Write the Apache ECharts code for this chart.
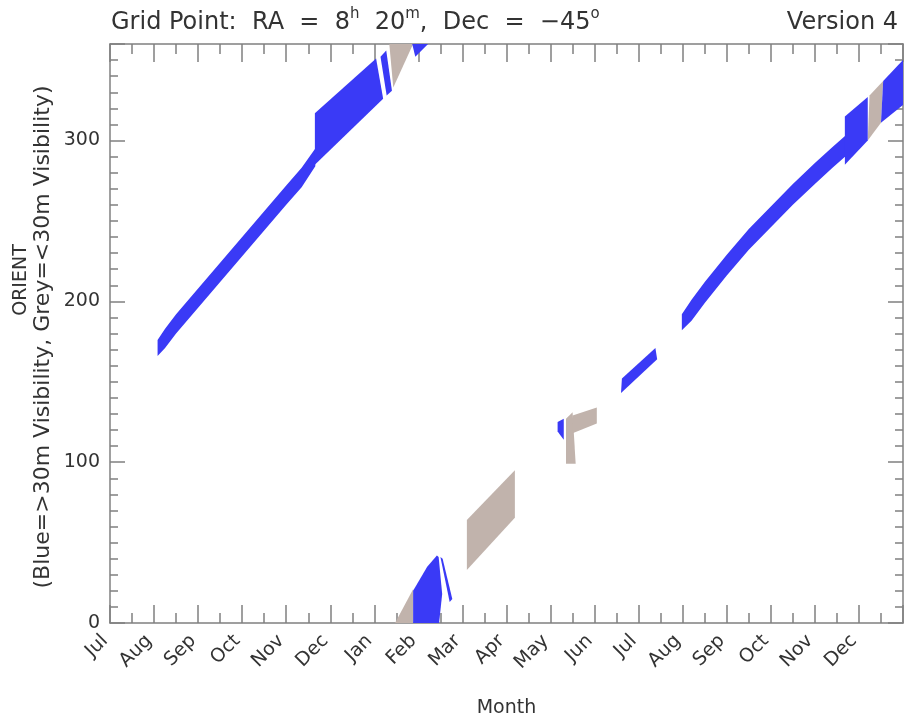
<!DOCTYPE html>
<html>
<head>
<meta charset="utf-8">
<script src="https://cdn.jsdelivr.net/npm/echarts@6/dist/echarts.min.js"></script>
<style>html,body{margin:0;padding:0;background:#fff;}#chart{width:907px;height:723px;}</style>
</head>
<body>
<div id="chart"></div>
<script>
// ---- tick labels ----
const monthLabels = ['Jul','Aug','Sep','Oct','Nov','Dec','Jan','Feb','Mar','Apr','May','Jun','Jul','Aug','Sep','Oct','Nov','Dec'];
const yTickValues = [0, 100, 200, 300];

// ---- data: x = months since 1 Jul, y = ORIENT (deg) ----
// long visibility band, first year (edges)
const band1Months = [1.08, 1.25, 1.5, 2.0, 2.5, 3.0, 3.5, 4.0, 4.35, 4.66];
const band1Low    = [166, 171, 180, 196, 212, 228, 244, 260, 271, 284];
const band1High   = [176, 183, 192, 208, 224, 240, 256, 272, 283, 295];
// long visibility band, second year (edges)
const band2Months = [12.98, 13.2, 13.5, 14.0, 14.5, 15.0, 15.5, 16.0, 16.4, 16.69];
const band2Low    = [182, 188, 199, 216, 232, 246, 260, 273, 283, 290];
const band2High   = [192, 201, 212, 229, 245, 259, 273, 286, 296, 303];

// other blue (>30m) patches, polygon vertices [month, orient]
const blueBlockDec1 = [[4.65,285],[6.2,326],[6.04,351],[4.65,317]];
const blueSliverJan = [[6.14,352],[6.27,356],[6.40,331],[6.28,328]];
const blueTopJan    = [[6.86,360],[7.22,360],[6.93,352]];
const blueBottomFeb = [[6.88,0],[6.88,20],[7.2,35],[7.42,42],[7.46,41],[7.54,18],[7.47,0]];
const blueSliverFeb = [[7.50,41],[7.55,40],[7.77,15],[7.71,13]];
const blueMay       = [[10.16,119],[10.16,125],[10.3,127],[10.3,114]];
const blueJun       = [[11.6,143],[11.62,152],[12.38,171],[12.42,164]];
const blueBlockDec2 = [[16.68,285],[17.2,300],[17.2,327],[16.68,315]];
const blueEndDec2   = [[17.5,311],[18,322],[18,350],[17.55,337]];

// grey (<30m) patches
const greyTopJan    = [[6.34,360],[6.88,360],[6.43,333]];
const greyBottomJan = [[6.47,0],[6.88,0],[6.88,21]];
const greyMar       = [[8.10,33],[9.19,65.5],[9.19,95],[8.10,64]];
const greyMayBar    = [[10.35,99],[10.35,127],[10.5,131],[10.57,99]];
const greyMayBand   = [[10.5,118],[10.5,129],[11.05,134],[11.05,124]];
const greyDec2      = [[17.2,300],[17.5,311],[17.55,337],[17.24,328]];

function bandPolygon(ms, lo, hi) {
  const lower = ms.map((m, i) => [m, lo[i]]);
  const upper = ms.map((m, i) => [m, hi[i]]).reverse();
  return lower.concat(upper);
}

const blueShapes = [
  bandPolygon(band1Months, band1Low, band1High),
  blueBlockDec1, blueSliverJan, blueTopJan, blueBottomFeb, blueSliverFeb,
  blueMay, blueJun,
  bandPolygon(band2Months, band2Low, band2High),
  blueBlockDec2, blueEndDec2
];
const greyShapes = [greyTopJan, greyBottomJan, greyMar, greyMayBar, greyMayBand, greyDec2];

const BLUE = '#3a3af6';
const GREY = '#c1b3ac';
const AXIS = '#808080';
const TEXT = '#333333';
const FONT = 'DejaVu Sans';

function polySeries(name, shapes, color) {
  return {
    type: 'custom',
    name: name,
    coordinateSystem: 'cartesian2d',
    xAxisIndex: 0, yAxisIndex: 0,
    clip: true,
    silent: true,
    encode: { x: 0, y: 1 },
    data: shapes.map((p, i) => [p[0][0], p[0][1], i]),
    renderItem: function (params, api) {
      const poly = shapes[api.value(2)];
      const pts = poly.map(pt => api.coord(pt));
      return { type: 'polygon', shape: { points: pts }, style: { fill: color, stroke: null } };
    }
  };
}

const lineStyle = { color: AXIS, width: 1.5 };

function xAxisDef(pos, showLabels) {
  return {
    type: 'value', position: pos, min: 0, max: 18, interval: 1,
    axisLine: { show: true, onZero: false, lineStyle: lineStyle },
    axisTick: { show: true, inside: true, length: 18, lineStyle: lineStyle },
    minorTick: { show: true, splitNumber: 2, length: 10, lineStyle: lineStyle },
    splitLine: { show: false }, minorSplitLine: { show: false },
    axisLabel: showLabels ? {
      show: true, rotate: 45, margin: 10, padding: [0, 7, 0, 0], fontSize: 19, color: TEXT, fontFamily: FONT,
      formatter: v => monthLabels[Math.round(v)] || ''
    } : { show: false },
    name: showLabels ? 'Month' : '',
    nameLocation: 'middle', nameGap: 76,
    nameTextStyle: { fontSize: 19, color: TEXT, fontFamily: FONT }
  };
}
function yAxisDef(pos, interval, len, showLine, showLabels) {
  return {
    type: 'value', position: pos, min: 0, max: 360, interval: interval,
    axisLine: { show: showLine, onZero: false, lineStyle: lineStyle },
    axisTick: { show: true, inside: true, length: len, lineStyle: lineStyle },
    splitLine: { show: false },
    axisLabel: showLabels ? {
      show: true, margin: 10, fontSize: 19, color: TEXT, fontFamily: FONT,
      formatter: v => (yTickValues.indexOf(v) >= 0 ? String(v) : '')
    } : { show: false }
  };
}

const chart = echarts.init(document.getElementById('chart'), null, { renderer: 'canvas' });
chart.setOption({
  backgroundColor: '#ffffff',
  animation: false,
  title: [
    {
      left: 106, top: 2,
      text: '{n|Grid Point:  RA  =  8}{s|h}{n|  20}{s|m}{n|,  Dec  =  −45}{s|o}',
      textStyle: {
        fontWeight: 'normal',
        rich: {
          n: { fontSize: 24, lineHeight: 32, fontWeight: 'normal', color: TEXT, fontFamily: FONT },
          s: { fontSize: 15, lineHeight: 18, fontWeight: 'normal', verticalAlign: 'top', color: TEXT, fontFamily: FONT }
        }
      }
    },
    {
      right: 4, top: 2, text: 'Version 4',
      textStyle: { fontSize: 24, lineHeight: 32, fontWeight: 'normal', color: TEXT, fontFamily: FONT }
    }
  ],
  grid: { left: 110, right: 4, top: 44, bottom: 91, containLabel: false },
  xAxis: [xAxisDef('bottom', true), xAxisDef('top', false)],
  yAxis: [
    yAxisDef('left', 100, 15, true, true),
    yAxisDef('left', 10, 8, false, false),
    yAxisDef('right', 100, 15, true, false),
    yAxisDef('right', 10, 8, false, false)
  ],
  graphic: [
    { type: 'text', x: 21, y: 280, rotation: Math.PI / 2,
      style: { text: 'ORIENT', align: 'center', verticalAlign: 'middle', fill: TEXT, fontSize: 19, fontFamily: FONT } },
    { type: 'text', x: 43, y: 337, rotation: Math.PI / 2,
      style: { text: '(Blue=>30m Visibility, Grey=<30m Visibility)', align: 'center', verticalAlign: 'middle', fill: TEXT, fontSize: 22, fontFamily: FONT } }
  ],
  series: [
    polySeries('grey', greyShapes, GREY),
    polySeries('blue', blueShapes, BLUE)
  ]
});
</script>
</body>
</html>
